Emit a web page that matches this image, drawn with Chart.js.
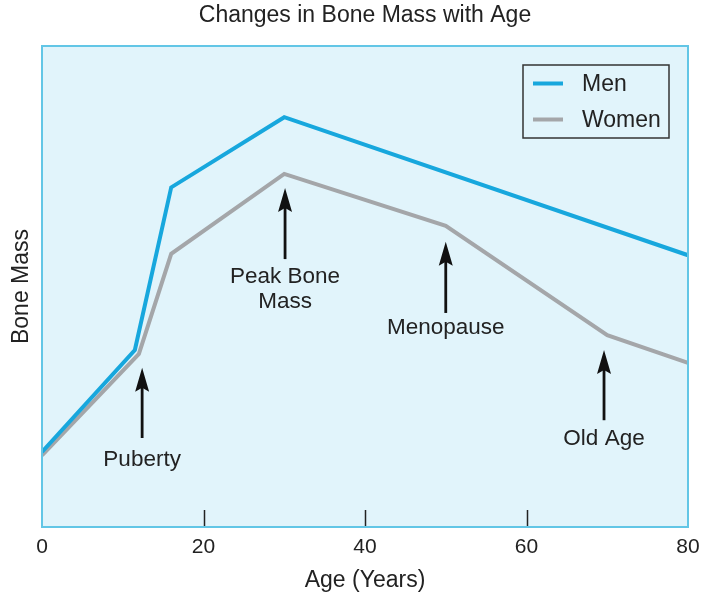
<!DOCTYPE html>
<html lang="en">

<head>
    <meta charset="UTF-8">
    <title>Changes in Bone Mass with Age</title>
    <script src="https://cdn.jsdelivr.net/npm/chart.js"></script>
    <style>
        body { margin: 0; background: #fff; }
        #wrap { width: 701px; height: 600px; }
    </style>
</head>

<body>
    <div id="wrap"><canvas id="myChart" width="701" height="600"></canvas></div>

    <script>
        // values (bone mass on a 0-100 scale)
        const menAges = [0, 11.5, 16, 30, 80];
        const menMass = [15.6, 36.8, 70.6, 85.2, 56.5];
        const womenAges = [0, 12, 16, 30, 50, 70, 80];
        const womenMass = [14.9, 36.0, 56.8, 73.4, 62.6, 39.9, 34.1];
        const ageTicks = [0, 20, 40, 60, 80];

        // arrows: age, tip, tail, label lines + label heights (data units)
        const notes = [
            { age: 12.4, tip: 33.1, tail: 18.5, lines: ['Puberty'], at: [14.0] },
            { age: 30.1, tip: 70.5, tail: 55.7, lines: ['Peak Bone', 'Mass'], at: [52.0, 46.8] },
            { age: 50.0, tip: 59.3, tail: 44.5, lines: ['Menopause'], at: [41.4] },
            { age: 69.6, tip: 36.8, tail: 22.2, lines: ['Old Age'], at: [18.3] }
        ];

        const FONT = "'Liberation Sans', Arial, Helvetica, sans-serif";
        const TITLE = 'Changes in Bone Mass with Age';

        const frame = {
            id: 'frame',
            beforeDraw(chart) {
                const { ctx, chartArea: a } = chart;
                ctx.save();
                ctx.fillStyle = '#e1f4fb';
                ctx.fillRect(a.left, a.top, a.right - a.left, a.bottom - a.top);
                // title, centred over the plot area
                ctx.fillStyle = '#222';
                ctx.font = '23px ' + FONT;
                ctx.textAlign = 'center';
                ctx.textBaseline = 'middle';
                ctx.fillText(TITLE, (a.left + a.right) / 2, 16);
                ctx.restore();
            },
            afterDraw(chart) {
                const { ctx, chartArea: a, scales } = chart;
                ctx.save();
                // inner ticks on the x axis
                ctx.strokeStyle = '#222';
                ctx.lineWidth = 1.5;
                scales.x.ticks.forEach(t => {
                    if (t.value <= scales.x.min || t.value >= scales.x.max) return;
                    const px = Math.round(scales.x.getPixelForValue(t.value)) + 0.5;
                    ctx.beginPath();
                    ctx.moveTo(px, a.bottom);
                    ctx.lineTo(px, a.bottom - 17);
                    ctx.stroke();
                });
                ctx.strokeStyle = '#62c6e6';
                ctx.lineWidth = 2;
                ctx.strokeRect(a.left, a.top, a.right - a.left, a.bottom - a.top);
                ctx.restore();
            }
        };

        const arrows = {
            id: 'arrows',
            afterDatasetsDraw(chart) {
                const { ctx, scales: { x, y } } = chart;
                ctx.save();
                ctx.font = '22.5px ' + FONT;
                ctx.textAlign = 'center';
                ctx.textBaseline = 'middle';
                for (const n of notes) {
                    const px = x.getPixelForValue(n.age);
                    const tip = y.getPixelForValue(n.tip);
                    const tail = y.getPixelForValue(n.tail);
                    ctx.strokeStyle = '#111';
                    ctx.fillStyle = '#111';
                    ctx.lineWidth = 2.8;
                    ctx.beginPath();
                    ctx.moveTo(px, tail);
                    ctx.lineTo(px, tip + 18);
                    ctx.stroke();
                    ctx.beginPath();
                    ctx.moveTo(px, tip);
                    ctx.lineTo(px + 7, tip + 24);
                    ctx.lineTo(px, tip + 20);
                    ctx.lineTo(px - 7, tip + 24);
                    ctx.closePath();
                    ctx.fill();
                    ctx.fillStyle = '#222';
                    n.lines.forEach((s, i) => {
                        ctx.fillText(s, px, y.getPixelForValue(n.at[i]));
                    });
                }
                ctx.restore();
            }
        };

        const boxLegend = {
            id: 'boxLegend',
            afterDraw(chart) {
                const { ctx, chartArea: a } = chart;
                const left = a.right - 165, top = a.top + 19;
                ctx.save();
                ctx.strokeStyle = '#333';
                ctx.lineWidth = 1.5;
                ctx.strokeRect(left, top, 146, 73);
                ctx.font = '23px ' + FONT;
                ctx.textBaseline = 'middle';
                chart.data.datasets.forEach((ds, i) => {
                    const yy = top + 18.5 + i * 36;
                    ctx.strokeStyle = ds.borderColor;
                    ctx.lineWidth = 4;
                    ctx.beginPath();
                    ctx.moveTo(left + 10, yy);
                    ctx.lineTo(left + 40, yy);
                    ctx.stroke();
                    ctx.fillStyle = '#222';
                    ctx.fillText(ds.label, left + 59, yy + 1);
                });
                ctx.restore();
            }
        };

        const ctx = document.getElementById('myChart').getContext('2d');
        const myChart = new Chart(ctx, {
            type: 'line',
            data: {
                datasets: [{
                    label: 'Men',
                    data: menAges.map((a, i) => ({ x: a, y: menMass[i] })),
                    borderColor: '#17a7dd',
                    borderWidth: 4,
                    pointRadius: 0,
                    tension: 0
                }, {
                    label: 'Women',
                    data: womenAges.map((a, i) => ({ x: a, y: womenMass[i] })),
                    borderColor: '#a4a6a9',
                    borderWidth: 4,
                    pointRadius: 0,
                    tension: 0
                }]
            },
            options: {
                responsive: false,
                animation: false,
                events: [],
                layout: { padding: { top: 46, right: 13, bottom: 0, left: 0 } },
                plugins: {
                    legend: { display: false },
                    tooltip: { enabled: false },
                    title: { display: false }
                },
                scales: {
                    x: {
                        type: 'linear',
                        min: 0,
                        max: 80,
                        afterBuildTicks: s => { s.ticks = ageTicks.map(v => ({ value: v })); },
                        afterFit: s => {
                            s.height = 73;
                            s.paddingLeft = 0;
                            s.paddingRight = 0;
                        },
                        grid: { display: false, drawTicks: false },
                        border: { display: false },
                        ticks: {
                            color: '#222',
                            padding: 8,
                            maxRotation: 0,
                            font: { family: FONT, size: 21 }
                        },
                        title: {
                            display: true,
                            text: 'Age (Years)',
                            color: '#222',
                            font: { family: FONT, size: 23, lineHeight: 1.2 },
                            padding: { top: 0, bottom: 6 }
                        }
                    },
                    y: {
                        min: 0,
                        max: 100,
                        afterFit: s => {
                            s.width = 42;
                            s.paddingTop = 0;
                            s.paddingBottom = 0;
                        },
                        grid: { display: false, drawTicks: false },
                        border: { display: false },
                        ticks: { display: false },
                        title: {
                            display: true,
                            text: 'Bone Mass',
                            color: '#222',
                            font: { family: FONT, size: 23, lineHeight: 1.2 },
                            padding: { top: 8, bottom: 0 }
                        }
                    }
                }
            },
            plugins: [frame, arrows, boxLegend]
        });
    </script>
</body>

</html>
